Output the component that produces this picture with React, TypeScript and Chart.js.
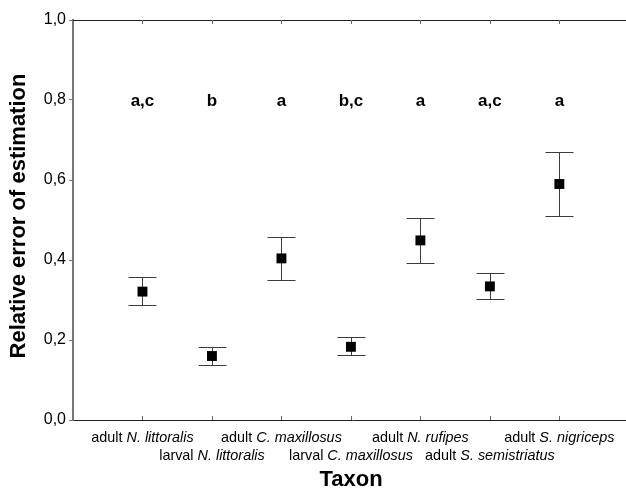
import React, { useEffect, useRef } from 'react';
import { Chart, registerables } from 'chart.js';

Chart.register(...registerables);

// ---- data ----
const taxonStage = ['adult', 'larval', 'adult', 'larval', 'adult', 'adult', 'adult'];
const taxonSpecies = ['N. littoralis', 'N. littoralis', 'C. maxillosus', 'C. maxillosus', 'N. rufipes', 'S. semistriatus', 'S. nigriceps'];
const meanError = [0.321, 0.16, 0.404, 0.183, 0.449, 0.334, 0.59];
const lowerError = [0.287, 0.138, 0.351, 0.162, 0.393, 0.303, 0.51];
const upperError = [0.357, 0.183, 0.458, 0.207, 0.505, 0.367, 0.67];
const groupLetters = ['a,c', 'b', 'a', 'b,c', 'a', 'a,c', 'a'];
const letterLevel = 0.8;
const yTickValues = [0, 0.2, 0.4, 0.6, 0.8, 1.0];
const yTitle = 'Relative error of estimation';
const xTitle = 'Taxon';

const FONT = '"Liberation Sans", Arial, sans-serif';

const overlayPlugin = {
  id: 'overlay',
  beforeDatasetsDraw(chart: any) {
    const { ctx } = chart;
    const xs = chart.scales.x;
    const ys = chart.scales.y;
    ctx.save();
    ctx.strokeStyle = '#3c3c3c';
    ctx.lineWidth = 1;
    for (let i = 0; i < meanError.length; i++) {
      const x = Math.round(xs.getPixelForValue(i + 1)) + 0.5;
      const yl = Math.round(ys.getPixelForValue(lowerError[i])) + 0.5;
      const yu = Math.round(ys.getPixelForValue(upperError[i])) + 0.5;
      ctx.beginPath();
      ctx.moveTo(x, yl);
      ctx.lineTo(x, yu);
      ctx.moveTo(x - 14, yl);
      ctx.lineTo(x + 14, yl);
      ctx.moveTo(x - 14, yu);
      ctx.lineTo(x + 14, yu);
      ctx.stroke();
    }
    ctx.restore();
  },
  afterDraw(chart: any) {
    const { ctx, chartArea } = chart;
    const xs = chart.scales.x;
    const ys = chart.scales.y;
    ctx.save();
    // top frame line
    ctx.strokeStyle = '#222';
    ctx.lineWidth = 1;
    ctx.beginPath();
    ctx.moveTo(chartArea.left, chartArea.top + 0.5);
    ctx.lineTo(chartArea.right, chartArea.top + 0.5);
    ctx.stroke();
    // inner ticks top and bottom
    ctx.strokeStyle = '#666';
    ctx.beginPath();
    for (let i = 0; i < meanError.length; i++) {
      const x = Math.round(xs.getPixelForValue(i + 1)) + 0.5;
      ctx.moveTo(x, chartArea.top);
      ctx.lineTo(x, chartArea.top + 4);
      ctx.moveTo(x, chartArea.bottom);
      ctx.lineTo(x, chartArea.bottom - 4);
    }
    ctx.stroke();

    // group letters
    ctx.fillStyle = '#000';
    ctx.font = `bold 17px ${FONT}`;
    ctx.textAlign = 'center';
    ctx.textBaseline = 'alphabetic';
    const ly = ys.getPixelForValue(letterLevel) + 6;
    for (let i = 0; i < groupLetters.length; i++) {
      ctx.fillText(groupLetters[i], xs.getPixelForValue(i + 1), ly);
    }

    // category labels (staggered, italic species)
    ctx.textAlign = 'left';
    for (let i = 0; i < taxonStage.length; i++) {
      const pre = taxonStage[i] + ' ';
      const sp = taxonSpecies[i];
      ctx.font = `14.4px ${FONT}`;
      const w1 = ctx.measureText(pre).width;
      ctx.font = `italic 14.4px ${FONT}`;
      const w2 = ctx.measureText(sp).width;
      const cx = xs.getPixelForValue(i + 1);
      const start = cx - (w1 + w2) / 2;
      const by = chartArea.bottom + (i % 2 === 0 ? 22 : 40);
      ctx.font = `14.4px ${FONT}`;
      ctx.fillText(pre, start, by);
      ctx.font = `italic 14.4px ${FONT}`;
      ctx.fillText(sp, start + w1, by);
    }

    // x title
    ctx.font = `bold 22px ${FONT}`;
    ctx.textAlign = 'center';
    ctx.fillText(xTitle, 351, 486);

    // y title
    ctx.translate(25, 216);
    ctx.rotate(-Math.PI / 2);
    ctx.fillText(yTitle, 0, 0);
    ctx.restore();
  },
};

export default function App() {
  const ref = useRef<HTMLCanvasElement | null>(null);
  useEffect(() => {
    if (!ref.current) return;
    const chart = new Chart(ref.current, {
      type: 'scatter',
      data: {
        datasets: [
          {
            data: meanError.map((v, i) => ({ x: i + 1, y: v })),
            pointStyle: 'rect',
            pointRadius: 7,
            pointHoverRadius: 7,
            backgroundColor: '#000',
            borderColor: '#000',
            borderWidth: 0,
          },
        ],
      },
      options: {
        responsive: false,
        animation: false,
        events: [],
        layout: { padding: { top: 20, right: 0, bottom: 0, left: 0 } },
        plugins: { legend: { display: false }, tooltip: { enabled: false } },
        scales: {
          x: {
            type: 'linear',
            min: 0,
            max: 8.06,
            ticks: { display: false },
            grid: { display: false },
            border: { display: true, color: '#222', width: 1 },
            afterFit: (s: any) => { s.height = 69; },
          },
          y: {
            type: 'linear',
            min: 0,
            max: 1,
            afterBuildTicks: (s: any) => { s.ticks = yTickValues.map((v) => ({ value: v })); },
            ticks: {
              callback: (v: any) => Number(v).toFixed(1).replace('.', ','),
              font: { size: 16, family: FONT },
              color: '#000',
              padding: 3,
            },
            grid: { drawOnChartArea: false, drawTicks: true, tickLength: 4, color: '#777' },
            border: { display: true, color: '#777', width: 2 },
            afterFit: (s: any) => { s.width = 73; },
          },
        },
      },
      plugins: [overlayPlugin],
    });
    return () => chart.destroy();
  }, []);
  return (
    <div style={{ position: 'fixed', left: 0, top: 0, width: 626, height: 489, overflow: 'hidden', background: '#fff' }}>
      <canvas ref={ref} width={640} height={489} style={{ display: 'block' }} />
    </div>
  );
}
